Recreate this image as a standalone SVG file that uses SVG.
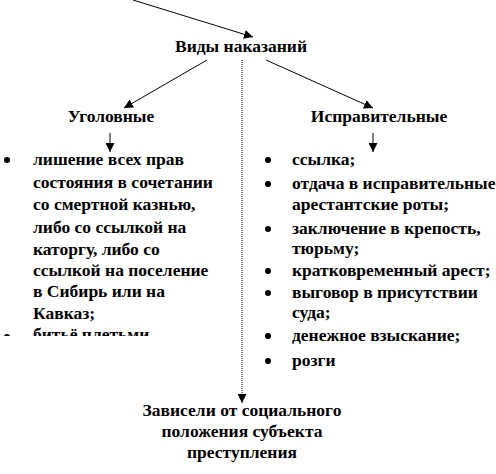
<svg xmlns="http://www.w3.org/2000/svg" width="496" height="474" viewBox="0 0 496 474" font-family="'Liberation Serif', 'Times New Roman', serif">
<style>
text{font-family:'Liberation Serif','Times New Roman',serif;font-size:17.5px;font-weight:bold;fill:#000}
.c{text-anchor:middle}
.ln{stroke:#000;stroke-width:1;fill:none}
.dot{stroke:#444;stroke-width:1.3;stroke-dasharray:1 1;fill:none}
</style>
<defs>
<marker id="ah" viewBox="0 0 10 10" refX="10" refY="5" markerWidth="9" markerHeight="9" markerUnits="userSpaceOnUse" orient="auto">
<path d="M0,0 L10,5 L0,10 Z" fill="#000"/>
</marker>
<clipPath id="lclip"><rect x="0" y="140" width="240" height="196"/></clipPath>
</defs>
<rect width="496" height="474" fill="#fff"/>
<g id="connectors">
<line class="ln" x1="133" y1="0" x2="253" y2="37" marker-end="url(#ah)"/>
<line class="ln" x1="207" y1="60" x2="124" y2="108" marker-end="url(#ah)"/>
<line class="ln" x1="266" y1="60" x2="373" y2="108" marker-end="url(#ah)"/>
<line class="dot" x1="242" y1="60" x2="242" y2="403" marker-end="url(#ah)"/>
<line class="ln" x1="110" y1="133" x2="110" y2="152" marker-end="url(#ah)"/>
<line class="ln" x1="373" y1="133" x2="373" y2="152" marker-end="url(#ah)"/>
</g>
<g id="root"><text class="c" x="241" y="52">Виды наказаний</text></g>
<g id="ugol"><text class="c" x="111" y="122">Уголовные</text></g>
<g id="ispr"><text class="c" x="379" y="122">Исправительные</text></g>
<g id="ugol-list" clip-path="url(#lclip)">
<circle cx="7" cy="160" r="3"/>
<text x="33" y="165">лишение  всех прав</text>
<text x="33" y="188">состояния в сочетании</text>
<text x="33" y="210">со смертной казнью,</text>
<text x="33" y="233">либо со ссылкой на</text>
<text x="33" y="255">каторгу, либо со</text>
<text x="33" y="276">ссылкой на поселение</text>
<text x="33" y="297">в Сибирь или на</text>
<text x="33" y="319">Кавказ;</text>
<circle cx="7" cy="337" r="3"/>
<text x="33" y="340">битьё плетьми</text>
</g>
<g id="ispr-list">
<circle cx="268" cy="160" r="3"/><text x="292" y="165">ссылка;</text>
<circle cx="268" cy="184" r="3"/><text x="292" y="189">отдача в исправительные</text>
<text x="292" y="210">арестантские роты;</text>
<circle cx="268" cy="229" r="3"/><text x="292" y="234">заключение в крепость,</text>
<text x="292" y="254">тюрьму;</text>
<circle cx="268" cy="271" r="3"/><text x="292" y="276">кратковременный арест;</text>
<circle cx="268" cy="293" r="3"/><text x="292" y="298">выговор в присутствии</text>
<text x="292" y="318">суда;</text>
<circle cx="268" cy="336" r="3"/><text x="292" y="341">денежное взыскание;</text>
<circle cx="268" cy="361" r="3"/><text x="292" y="366">розги</text>
</g>
<g id="bottom">
<text class="c" x="242" y="416">Зависели от социального</text>
<text class="c" x="242" y="437">положения субъекта</text>
<text class="c" x="242" y="458">преступления</text>
</g>
</svg>
